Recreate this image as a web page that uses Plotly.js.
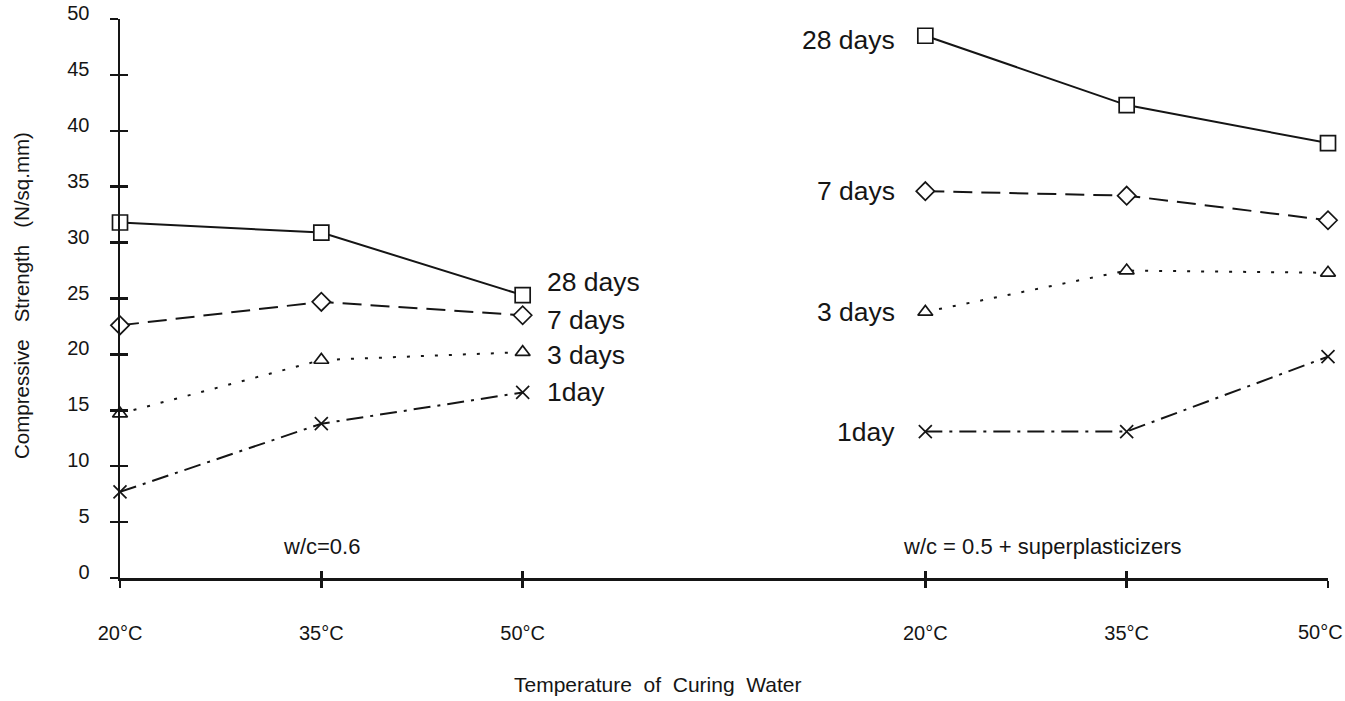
<!DOCTYPE html>
<html>
<head>
<meta charset="utf-8">
<script src="https://cdn.plot.ly/plotly-3.0.1.min.js"></script>
<style>
html,body{margin:0;padding:0;background:#fff;}
#chart{width:1345px;height:701px;}
</style>
</head>
<body>
<div id="chart"></div>
<script>
// ---- data ----
const tickPositions = [0, 1, 2, 4, 5, 6];
const tickLabels = ['20°C', '35°C', '50°C', '20°C', '35°C', '50°C'];
const leftX = [0, 1, 2];      // w/c = 0.6
const rightX = [4, 5, 6];     // w/c = 0.5 + superplasticizers
const seriesNames = ['28 days', '7 days', '3 days', '1day'];
const left28 = [31.8, 30.9, 25.3];
const left7  = [22.6, 24.7, 23.5];
const left3  = [14.7, 19.5, 20.2];
const left1  = [7.7, 13.8, 16.6];
const right28 = [48.5, 42.3, 38.9];
const right7  = [34.6, 34.2, 32.0];
const right3  = [23.8, 27.5, 27.3];
const right1  = [13.1, 13.1, 19.8];
const yTicks = [0, 5, 10, 15, 20, 25, 30, 35, 40, 45, 50];
const groupLabels = ['w/c=0.6', 'w/c = 0.5 + superplasticizers'];
const xTitle = 'Temperature\u00a0 of\u00a0 Curing\u00a0 Water';
const yTitle = 'Compressive\u00a0\u00a0 Strength\u00a0\u00a0 (N/sq.mm)';

// ---- styles ----
const FONT = 'Arial, "Liberation Sans", Helvetica, sans-serif';
const INK = '#151515';
const styles = [
  {dash: 'solid', symbol: 'square', size: 15},
  {dash: '19px,9px', symbol: 'diamond', size: 14},
  {dash: '3px,11px', symbol: 'triangle-up', size: 13},
  {dash: '17px,7px,3px,7px', symbol: 'x-thin-open', size: 13}
];
const leftVals = [left28, left7, left3, left1];
const rightVals = [right28, right7, right3, right1];

const traces = [];
function addTrace(xs, ys, i) {
  const s = styles[i];
  const isX = s.symbol === 'x-thin-open';
  traces.push({
    x: xs, y: ys, type: 'scatter', mode: 'lines+markers', name: seriesNames[i],
    showlegend: false, hoverinfo: 'x+y', cliponaxis: false,
    line: {color: INK, width: 2, dash: s.dash},
    marker: {symbol: s.symbol, size: s.size, color: isX ? INK : '#fff',
             line: {color: INK, width: 1.7}}
  });
}
for (let i = 0; i < 4; i++) { addTrace(leftX, leftVals[i], i); addTrace(rightX, rightVals[i], i); }
// dummy trace to register the overlay axes (inside half of crossing tick marks)
traces.push({x: [], y: [], xaxis: 'x2', yaxis: 'y2', type: 'scatter', showlegend: false, hoverinfo: 'skip'});

const labelFont = {family: FONT, size: 26.5, color: INK};
const annotations = [];
// left series labels (right of the 50°C points)
const leftShift = [13, -5, -3, 0];
for (let i = 0; i < 4; i++) {
  annotations.push({x: leftX[2], y: leftVals[i][2], xref: 'x', yref: 'y', text: seriesNames[i],
    showarrow: false, xanchor: 'left', yanchor: 'middle', xshift: 22, yshift: leftShift[i], font: labelFont});
}
// right series labels (left of the first 20°C points)
const rightShift = [-4, 0, 0, 0];
for (let i = 0; i < 4; i++) {
  annotations.push({x: rightX[0], y: rightVals[i][0], xref: 'x', yref: 'y', text: seriesNames[i],
    showarrow: false, xanchor: 'right', yanchor: 'middle', xshift: -28, yshift: rightShift[i], font: labelFont});
}
annotations.push({x: leftX[1], y: 2.8, xref: 'x', yref: 'y', text: groupLabels[0], showarrow: false,
  xanchor: 'center', yanchor: 'middle', font: {family: FONT, size: 22, color: INK}});
annotations.push({x: 4.58, y: 2.8, xref: 'x', yref: 'y', text: groupLabels[1], showarrow: false,
  xanchor: 'center', yanchor: 'middle', font: {family: FONT, size: 22, color: INK}});
annotations.push({x: 0.4454, y: -0.19, xref: 'paper', yref: 'paper', text: xTitle,
  showarrow: false, xanchor: 'center', yanchor: 'middle', font: {family: FONT, size: 21, color: INK}});
annotations.push({x: -0.0811, y: 0.5045, xref: 'paper', yref: 'paper', text: yTitle, textangle: -90,
  showarrow: false, xanchor: 'center', yanchor: 'middle', font: {family: FONT, size: 20.5, color: INK}});
// last x tick label kept inside the page edge
annotations.push({x: tickPositions[5], y: -0.0966, xref: 'x', yref: 'paper', text: tickLabels[5],
  showarrow: false, xanchor: 'right', yanchor: 'middle', xshift: 17, font: {family: FONT, size: 20, color: INK}});
const shownTickText = tickLabels.map((t, i) => i === tickLabels.length - 1 ? '' : t);

const layout = {
  width: 1345, height: 701,
  margin: {l: 120, r: 17, t: 19, b: 123},
  paper_bgcolor: '#fff', plot_bgcolor: '#fff',
  font: {family: FONT, color: INK},
  showlegend: false,
  xaxis: {
    range: [0, 6], tickmode: 'array', tickvals: tickPositions, ticktext: shownTickText,
    showgrid: false, zeroline: false, showline: true, linecolor: INK, linewidth: 2.5,
    ticks: 'outside', ticklen: 7, tickwidth: 2.5, tickcolor: INK,
    tickfont: {family: FONT, size: 20, color: INK}, ticklabelstandoff: 28
  },
  yaxis: {
    range: [0, 50], tickmode: 'array', tickvals: yTicks,
    showgrid: false, zeroline: false, showline: true, linecolor: INK, linewidth: 2.5,
    ticks: 'outside', ticklen: 8, tickwidth: 2.5, tickcolor: INK,
    tickfont: {family: FONT, size: 20, color: INK}, ticklabelstandoff: 16, ticklabelshift: -6
  },
  xaxis2: {
    overlaying: 'x', anchor: 'y2', range: [0, 6], tickmode: 'array', tickvals: tickPositions,
    showticklabels: false, showgrid: false, zeroline: false, showline: false,
    ticks: 'inside', ticklen: 7, tickwidth: 2.5, tickcolor: INK
  },
  yaxis2: {
    overlaying: 'y', anchor: 'x2', range: [0, 50], tickmode: 'array', tickvals: yTicks,
    showticklabels: false, showgrid: false, zeroline: false, showline: false,
    ticks: 'inside', ticklen: 8, tickwidth: 2.5, tickcolor: INK
  },
  annotations: annotations
};

Plotly.newPlot('chart', traces, layout, {displayModeBar: false, staticPlot: true});
</script>
</body>
</html>
